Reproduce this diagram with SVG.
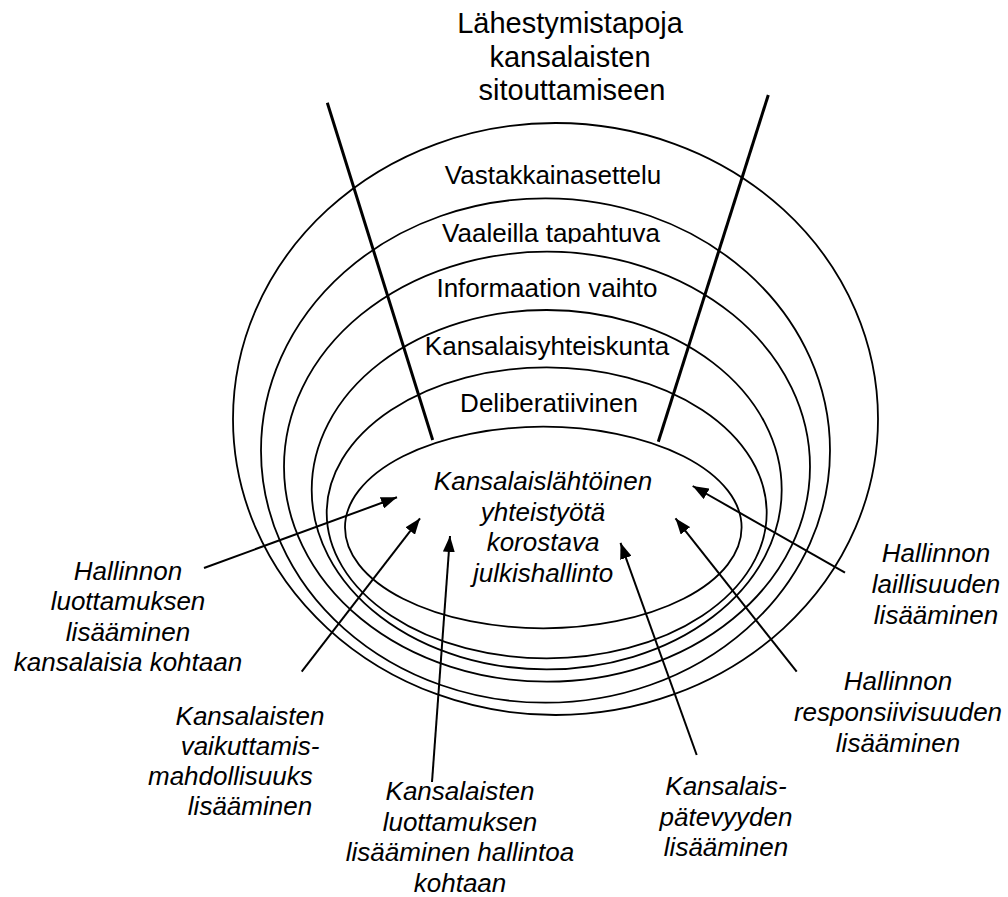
<svg xmlns="http://www.w3.org/2000/svg" width="1008" height="897" viewBox="0 0 1008 897">
  <style>
    .ring { fill: none; stroke: #000; stroke-width: 1.8; }
    .funnel { stroke: #000; stroke-width: 3; fill: none; }
    .arrow { stroke: #000; stroke-width: 2; fill: none; marker-end: url(#head); }
    text { font-family: "Liberation Sans", Arial, sans-serif; font-size: 26px; fill: #000; text-anchor: middle; }
    .title { font-size: 29px; }
    .it { font-style: italic; }
  </style>
  <defs>
    <marker id="head" viewBox="0 0 16 12" refX="16" refY="6" markerWidth="16" markerHeight="12" markerUnits="userSpaceOnUse" orient="auto">
      <path d="M0,0 L16,6 L0,12 Z" fill="#000"/>
    </marker>
    <clipPath id="clipVaaleilla">
      <rect x="400" y="200" width="300" height="43.5"/>
    </clipPath>
  </defs>

  <!-- title -->
  <g id="title">
    <text class="title" x="570" y="33.3">Lähestymistapoja</text>
    <text class="title" x="570" y="66.7">kansalaisten</text>
    <text class="title" x="572" y="100">sitouttamiseen</text>
  </g>

  <!-- nested approach rings, outermost first -->
  <g id="ring-vastakkainasettelu">
    <ellipse class="ring" cx="555.5" cy="419" rx="322.5" ry="296"/>
    <text x="553" y="183.5">Vastakkainasettelu</text>
  </g>
  <g id="ring-vaaleilla">
    <ellipse class="ring" cx="545.5" cy="450.5" rx="284.5" ry="252.2"/>
    <text x="551" y="241.7" clip-path="url(#clipVaaleilla)">Vaaleilla tapahtuva</text>
  </g>
  <g id="ring-informaatio">
    <ellipse class="ring" cx="547" cy="466.7" rx="263" ry="215"/>
    <text x="547" y="296.7">Informaation vaihto</text>
  </g>
  <g id="ring-kansalaisyhteiskunta">
    <ellipse class="ring" cx="546.7" cy="489.7" rx="235" ry="179.7"/>
    <text x="547" y="355">Kansalaisyhteiskunta</text>
  </g>
  <g id="ring-deliberatiivinen">
    <ellipse class="ring" cx="546.7" cy="512.8" rx="220" ry="145.5"/>
    <text x="549" y="411.7">Deliberatiivinen</text>
  </g>
  <g id="core">
    <ellipse class="ring" cx="543.3" cy="527.5" rx="198.3" ry="100.8"/>
    <text class="it" x="543" y="490">Kansalaislähtöinen</text>
    <text class="it" x="543" y="520.5">yhteistyötä</text>
    <text class="it" x="543" y="551">korostava</text>
    <text class="it" x="543" y="581.5">julkishallinto</text>
  </g>

  <!-- funnel edges -->
  <g id="funnel">
    <line class="funnel" x1="327.3" y1="102.7" x2="432.7" y2="440"/>
    <line class="funnel" x1="768.3" y1="95" x2="658.3" y2="441.7"/>
  </g>

  <!-- outcome labels -->
  <g id="label-hallinnon-luottamus">
    <text class="it" x="128" y="580">Hallinnon</text>
    <text class="it" x="128" y="610">luottamuksen</text>
    <text class="it" x="128" y="640.5">lisääminen</text>
    <text class="it" x="128" y="671">kansalaisia kohtaan</text>
  </g>
  <g id="label-vaikuttamis">
    <text class="it" x="250" y="725">Kansalaisten</text>
    <text class="it" x="250" y="755">vaikuttamis-</text>
    <text class="it" x="148" y="785" style="text-anchor:start">mahdollisuuks</text>
    <text class="it" x="250" y="815">lisääminen</text>
  </g>
  <g id="label-kansalaisten-luottamus">
    <text class="it" x="460" y="800">Kansalaisten</text>
    <text class="it" x="460" y="830.5">luottamuksen</text>
    <text class="it" x="460" y="861">lisääminen hallintoa</text>
    <text class="it" x="460" y="891.5">kohtaan</text>
  </g>
  <g id="label-patevyys">
    <text class="it" x="726" y="795">Kansalais-</text>
    <text class="it" x="726" y="825.5">pätevyyden</text>
    <text class="it" x="726" y="856">lisääminen</text>
  </g>
  <g id="label-responsiivisuus">
    <text class="it" x="898" y="690">Hallinnon</text>
    <text class="it" x="898" y="721">responsiivisuuden</text>
    <text class="it" x="898" y="752">lisääminen</text>
  </g>
  <g id="label-laillisuus">
    <text class="it" x="936" y="562">Hallinnon</text>
    <text class="it" x="936" y="593">laillisuuden</text>
    <text class="it" x="936" y="624">lisääminen</text>
  </g>

  <!-- arrows from outcomes into the core -->
  <g id="connectors">
    <line class="arrow" x1="204" y1="568" x2="397" y2="497.3"/>
    <line class="arrow" x1="301.7" y1="671.7" x2="420" y2="518.3"/>
    <line class="arrow" x1="432" y1="782" x2="450" y2="536"/>
    <line class="arrow" x1="696.7" y1="755" x2="620.5" y2="542.8"/>
    <line class="arrow" x1="796.7" y1="671.7" x2="675.5" y2="518.3"/>
    <line class="arrow" x1="845" y1="572.7" x2="692.7" y2="486"/>
  </g>
</svg>
